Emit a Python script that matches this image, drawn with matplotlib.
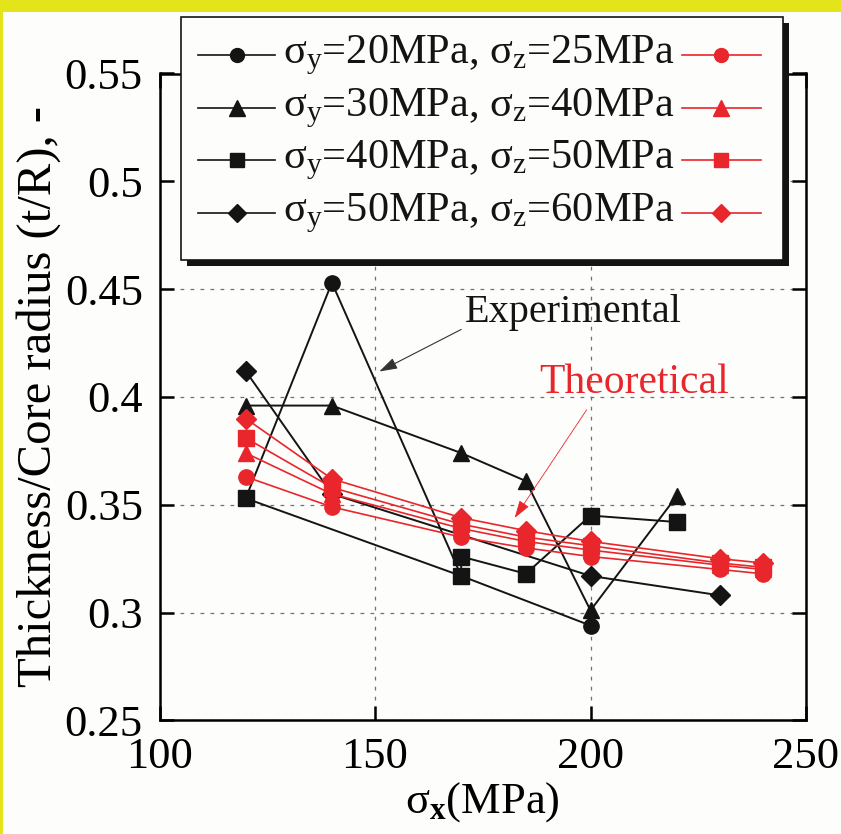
import matplotlib

matplotlib.use("Agg")
import matplotlib.pyplot as plt
from matplotlib.lines import Line2D
from matplotlib.patches import Rectangle


# experimental data (black)
exp_circle_x = [120, 140, 170, 200]
exp_circle_y = [0.353, 0.453, 0.317, 0.294]

exp_triangle_x = [120, 140, 170, 185, 200, 220]
exp_triangle_y = [0.396, 0.396, 0.374, 0.361, 0.301, 0.354]

exp_square_x = [120, 170, 170, 185, 200, 220]
exp_square_y = [0.353, 0.317, 0.326, 0.318, 0.345, 0.342]

exp_diamond_x = [120, 140, 200, 230]
exp_diamond_y = [0.412, 0.355, 0.317, 0.308]

# theoretical data (red)
theo_x = [120, 140, 170, 185, 200, 230, 240]
theo_circle_y = [0.363, 0.349, 0.335, 0.330, 0.326, 0.320, 0.318]
theo_triangle_y = [0.374, 0.355, 0.339, 0.333, 0.329, 0.322, 0.320]
theo_square_y = [0.381, 0.358, 0.341, 0.335, 0.331, 0.323, 0.321]
theo_diamond_y = [0.390, 0.362, 0.344, 0.338, 0.333, 0.325, 0.323]

legend_labels = [
    r"$\mathrm{σ_{y}}$=20MPa, $\mathrm{σ_{z}}$=25MPa",
    r"$\mathrm{σ_{y}}$=30MPa, $\mathrm{σ_{z}}$=40MPa",
    r"$\mathrm{σ_{y}}$=40MPa, $\mathrm{σ_{z}}$=50MPa",
    r"$\mathrm{σ_{y}}$=50MPa, $\mathrm{σ_{z}}$=60MPa",
]

x_ticks = [100, 150, 200, 250]
y_ticks = [0.25, 0.3, 0.35, 0.4, 0.45, 0.5, 0.55]
y_tick_labels = ["0.25", "0.3", "0.35", "0.4", "0.45", "0.5", "0.55"]

RED = "#e8262b"
BLACK = "#141414"
YELLOW = "#e4e41a"
W, H = 841, 834

plt.rcParams["font.family"] = ["Liberation Serif", "DejaVu Serif"]
plt.rcParams["mathtext.fontset"] = "custom"
plt.rcParams["mathtext.rm"] = "Liberation Serif"
plt.rcParams["mathtext.it"] = "Liberation Serif:italic"
plt.rcParams["mathtext.bf"] = "Liberation Serif:bold"


def fx(px):
    return px / W


def fy(py):
    return 1 - py / H


fig = plt.figure(figsize=(W / 100, H / 100), dpi=100, facecolor=YELLOW)
fig.add_artist(
    Rectangle((fx(2.5), 0), 1, fy(12), transform=fig.transFigure,
              facecolor="#fdfdfb", edgecolor="none", zorder=-10)
)

ax = fig.add_axes([fx(159.5), fy(720.4), fx(806) - fx(159.5), fy(73.5) - fy(720.4)])
ax.set_facecolor("#fdfdfb")

markers = ["o", "^", "s", "D"]
sizes = [11, 12, 11, 10]
exp_xs = [exp_circle_x, exp_triangle_x, exp_square_x, exp_diamond_x]
exp_ys = [exp_circle_y, exp_triangle_y, exp_square_y, exp_diamond_y]
theo_ys = [theo_circle_y, theo_triangle_y, theo_square_y, theo_diamond_y]

for xs, ys, m, ms in zip(exp_xs, exp_ys, markers, sizes):
    ax.plot(xs, ys, color=BLACK, lw=1.4, marker=m, ms=ms, zorder=3)

for ys, m, ms in zip(theo_ys, markers, sizes):
    ax.plot(theo_x, ys, color=RED, lw=1.2, marker=m, ms=ms, zorder=4)

ax.set_xlim(100, 250)
ax.set_ylim(0.25, 0.55)
ax.set_xticks(x_ticks)
ax.set_yticks(y_ticks)
ax.set_yticklabels(y_tick_labels)
ax.tick_params(direction="in", length=10, width=1.8, labelsize=32,
               right=True, top=True, pad=12)
for s in ax.spines.values():
    s.set_linewidth(1.8)
ax.grid(True, color="#707070", lw=0.9, linestyle=(0, (3, 5)))

ax.set_xlabel(r"$\mathrm{σ}_{\mathbf{x}}$(MPa)", fontsize=32, labelpad=2)
ax.set_ylabel("Thickness/Core radius (t/R), -", fontsize=35, labelpad=3)

ax.annotate(
    "", xy=(151.0, 0.4118), xytext=(170.0, 0.4313),
    arrowprops=dict(arrowstyle="-|>,head_length=1.1,head_width=0.35",
                    color="#333333", lw=0.8, shrinkA=0, shrinkB=0),
    zorder=5,
)
ax.text(170.8, 0.439, "Experimental", fontsize=29, color=BLACK,
        ha="left", va="center")

ax.annotate(
    "", xy=(182.4, 0.3439), xytext=(199.1, 0.394),
    arrowprops=dict(arrowstyle="-|>,head_length=1.1,head_width=0.35",
                    color=RED, lw=0.6, shrinkA=0, shrinkB=0),
    zorder=5,
)
ax.text(188.2, 0.4066, "Theoretical", fontsize=30, color=RED,
        ha="left", va="center")

# legend box with shadow, drawn in figure pixels
box_l, box_r, box_t, box_b = 181, 783, 17, 260
fig.add_artist(Rectangle((fx(box_l + 6), fy(box_b + 6)), fx(box_r - box_l), fy(box_t) - fy(box_b),
                         transform=fig.transFigure, facecolor=BLACK, edgecolor="none", zorder=20))
fig.add_artist(Rectangle((fx(box_l), fy(box_b)), fx(box_r - box_l), fy(box_t) - fy(box_b),
                         transform=fig.transFigure, facecolor="#fdfdfb", edgecolor=BLACK,
                         lw=1.2, zorder=21))

row_y = [55, 108, 160, 213]
for ry, m, ms, label in zip(row_y, markers, sizes, legend_labels):
    fig.add_artist(Line2D([fx(198), fx(275)], [fy(ry), fy(ry)], color=BLACK, lw=1.2, zorder=22))
    fig.add_artist(Line2D([fx(237)], [fy(ry)], color=BLACK, marker=m, ms=ms - 1, zorder=23))
    fig.add_artist(Line2D([fx(682), fx(761)], [fy(ry), fy(ry)], color=RED, lw=1.2, zorder=22))
    fig.add_artist(Line2D([fx(721)], [fy(ry)], color=RED, marker=m, ms=ms - 1, zorder=23))
    fig.text(fx(283), fy(ry), label, fontsize=30.5, color=BLACK, ha="left", va="center",
             zorder=24)

fig.savefig("out.png", dpi=100, facecolor=fig.get_facecolor())
